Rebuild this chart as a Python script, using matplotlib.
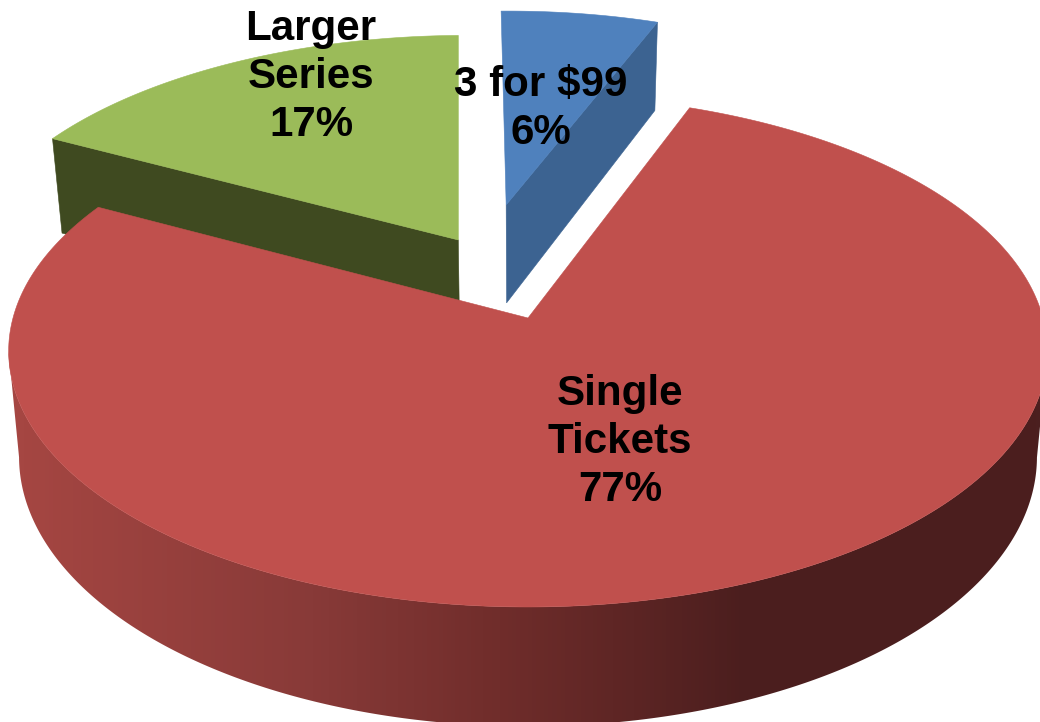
import numpy as np, matplotlib
matplotlib.use("Agg")
import matplotlib.pyplot as plt
from matplotlib.colors import LinearSegmentedColormap
from matplotlib.patches import Polygon

categories = ["3 for $99", "Single\nTickets", "Larger\nSeries"]
shares = [6, 77, 17]
top_colors = ["#4F81BD", "#C0504D", "#9BBB59"]
radial_wall_colors = ["#3C6391", "#4B1F1F", "#3F4A20"]
explode = [(-0.045, 0.477), (0.0, 0.0), (-0.141, 0.323)]   # apex offset on the disc
radii = [0.97, 1.0, 0.99]
label_xy = [(541, 109), (620, 442), (311, 77)]
start_angle = -1.0   # degrees clockwise from the back of the disc

# perspective of the disc into pixels
CX, V0, A, B, K = 528.0, 318.0, 515.0, 251.7, 0.129
HEIGHT, SHRINK = 104.0, 0.02

def project(X, Y, depth=0.0):
    w = 1 + K * Y
    u = CX + A * (1 - SHRINK * depth) * X / w
    v = V0 - B * Y / w + HEIGHT * depth / w
    return u, v

wall_cmap = LinearSegmentedColormap.from_list("wall", [
    (0.0, "#A74743"), (0.02, "#A54642"), (0.30, "#883A38"), (0.48, "#702D2B"), (0.72, "#4B1E1E"), (1.0, "#4B1F1F")])

fig = plt.figure(figsize=(10.4, 7.22), dpi=100, facecolor="white")
ax = fig.add_axes([0, 0, 1, 1])

fractions = np.array(shares) / sum(shares)
edges = start_angle + 360 * np.concatenate([[0], np.cumsum(fractions)])

# back slices first, the big slice sits in front of them
for i in [0, 2, 1]:
    ox, oy = explode[i]
    t = np.radians(np.linspace(edges[i], edges[i + 1], 480))
    xs = ox + radii[i] * np.sin(t)
    ys = oy + radii[i] * np.cos(t)

    if i != 1:
        # radial wall that faces the viewer
        j = 0 if i == 2 else -1
        ut, vt = project(np.array([ox, xs[j]]), np.array([oy, ys[j]]))
        ub, vb = project(np.array([ox, xs[j]]), np.array([oy, ys[j]]), 1.0)
        ax.add_patch(Polygon(np.c_[np.r_[ut, ub[::-1]], np.r_[vt, vb[::-1]]],
                             fc=radial_wall_colors[i], ec=radial_wall_colors[i], lw=0.4, zorder=i + 1))
    else:
        # curved rim: only the front run of the arc, right extreme round to left extreme
        ut, vt = project(xs, ys)
        ub, vb = project(xs, ys, 1.0)
        front = np.arange(ut.argmax(), ut.argmin() + 1)
        rim = Polygon(np.c_[np.r_[ut[front], ub[front][::-1]], np.r_[vt[front], vb[front][::-1]]],
                      fc="none", ec="none", transform=ax.transData)
        ax.add_patch(rim)
        im = ax.imshow(np.linspace(0, 1, 256)[None, :], cmap=wall_cmap, extent=(0, 1040, 740, 0),
                       aspect="auto", zorder=4)
        im.set_clip_path(rim)

    ux, vx = project(np.r_[ox, xs], np.r_[oy, ys])
    ax.add_patch(Polygon(np.c_[ux, vx], fc=top_colors[i], ec=top_colors[i], lw=0.4, zorder=5 if i == 1 else i + 1.5))

for name, value, (x, y) in zip(categories, shares, label_xy):
    ax.text(x, y, f"{name}\n{value}%", ha="center", va="center", ma="center", fontsize=30.3,
            fontweight="bold", family="Liberation Sans", color="black", linespacing=1.26,
            parse_math=False, zorder=10)

ax.set_xlim(0, 1040)
ax.set_ylim(722, 0)
ax.axis("off")

fig.savefig("out.png", dpi=100, facecolor="white")
